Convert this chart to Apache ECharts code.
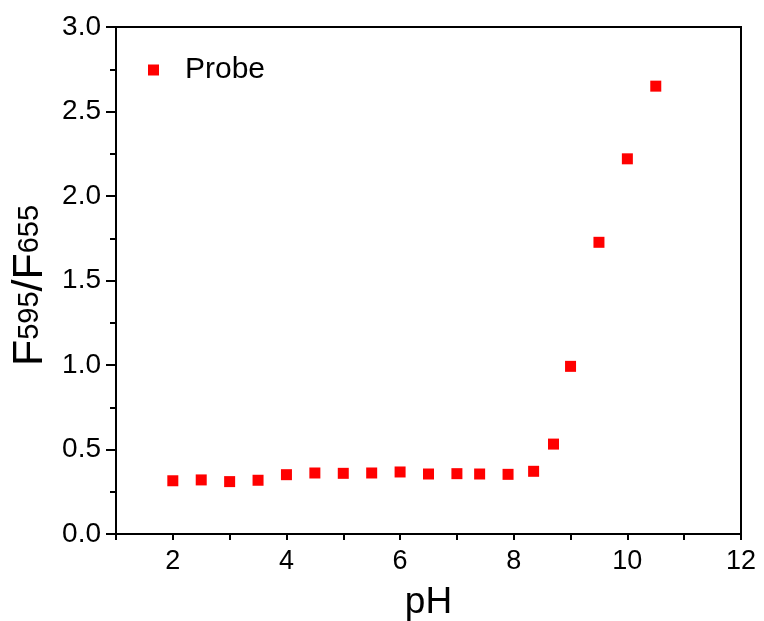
<!DOCTYPE html>
<html lang="en">
<head>
    <meta charset="UTF-8">
    <title>F595/F655 vs pH</title>
    <script type="text/javascript" src="https://cdn.jsdelivr.net/npm/echarts@6/dist/echarts.min.js"></script>
</head>
<body style="margin:0;background:#fff;">
<div id="main" style="width: 764px; height:621px;"></div>

<script>
    // values
    var pH = [2, 2.5, 3, 3.5, 4, 4.5, 5, 5.5, 6, 6.5, 7, 7.4, 7.9, 8.35, 8.7, 9, 9.5, 10, 10.5];
    var ratio = [0.315, 0.32, 0.31, 0.318, 0.351, 0.361, 0.359, 0.361, 0.367, 0.355, 0.357, 0.355, 0.353, 0.371, 0.532, 0.992, 1.726, 2.22, 2.65];
    var seriesName = 'Probe';

    var points = [];
    for (var i = 0; i < pH.length; i++) {
        points.push([pH[i], ratio[i]]);
    }

    var font = 'Arial, "Liberation Sans", sans-serif';
    var myChart = echarts.init(document.getElementById('main'));

    var option = {
        backgroundColor: '#fff',
        animation: false,
        textStyle: {fontFamily: font, color: '#000'},
        grid: {
            left: 116,
            right: 23,
            top: 27,
            bottom: 87,
            outerBoundsMode: 'none',
            containLabel: false,
            show: true,
            borderColor: '#000',
            borderWidth: 2
        },
        legend: {
            left: 143,
            top: 50,
            icon: 'rect',
            itemWidth: 11,
            itemHeight: 11,
            textStyle: {fontSize: 30, fontFamily: font, color: '#000', padding: [0, 0, 0, 21]},
            data: [seriesName]
        },
        xAxis: {
            type: 'value',
            min: 1,
            max: 12,
            interval: 1,
            name: 'pH',
            nameLocation: 'middle',
            nameGap: 50,
            nameTextStyle: {fontSize: 37, fontFamily: font, color: '#000'},
            axisLine: {onZero: false, lineStyle: {color: '#000', width: 2}},
            axisTick: {inside: false, length: 6, lineStyle: {color: '#000', width: 2}},
            axisLabel: {
                fontSize: 27, fontFamily: font, color: '#000', margin: 14,
                formatter: function (v) { return v % 2 === 0 ? String(v) : ''; }
            },
            splitLine: {show: false}
        },
        yAxis: {
            type: 'value',
            min: 0,
            max: 3,
            interval: 0.5,
            name: '{a|F}{b|595}{a|/F}{b|655}',
            nameLocation: 'middle',
            nameRotate: 90,
            nameGap: 64,
            nameTextStyle: {
                padding: [0, 10, 0, 0],
                rich: {
                    a: {fontSize: 43, fontFamily: font, color: '#000', verticalAlign: 'middle'},
                    b: {fontSize: 29, fontFamily: font, color: '#000', verticalAlign: 'middle'}
                }
            },
            axisLine: {onZero: false, lineStyle: {color: '#000', width: 2}},
            axisTick: {inside: false, length: 10, lineStyle: {color: '#000', width: 2}},
            minorTick: {show: true, splitNumber: 2, length: 6, lineStyle: {color: '#000', width: 2}},
            axisLabel: {
                fontSize: 28, fontFamily: font, color: '#000', margin: 15,
                formatter: function (v) { return v.toFixed(1); }
            },
            splitLine: {show: false}
        },
        series: [
            {
                name: seriesName,
                type: 'scatter',
                symbol: 'rect',
                symbolSize: 11,
                itemStyle: {color: '#ff0000', opacity: 1},
                data: points
            }
        ]
    };

    myChart.setOption(option);
</script>
</body>
</html>
